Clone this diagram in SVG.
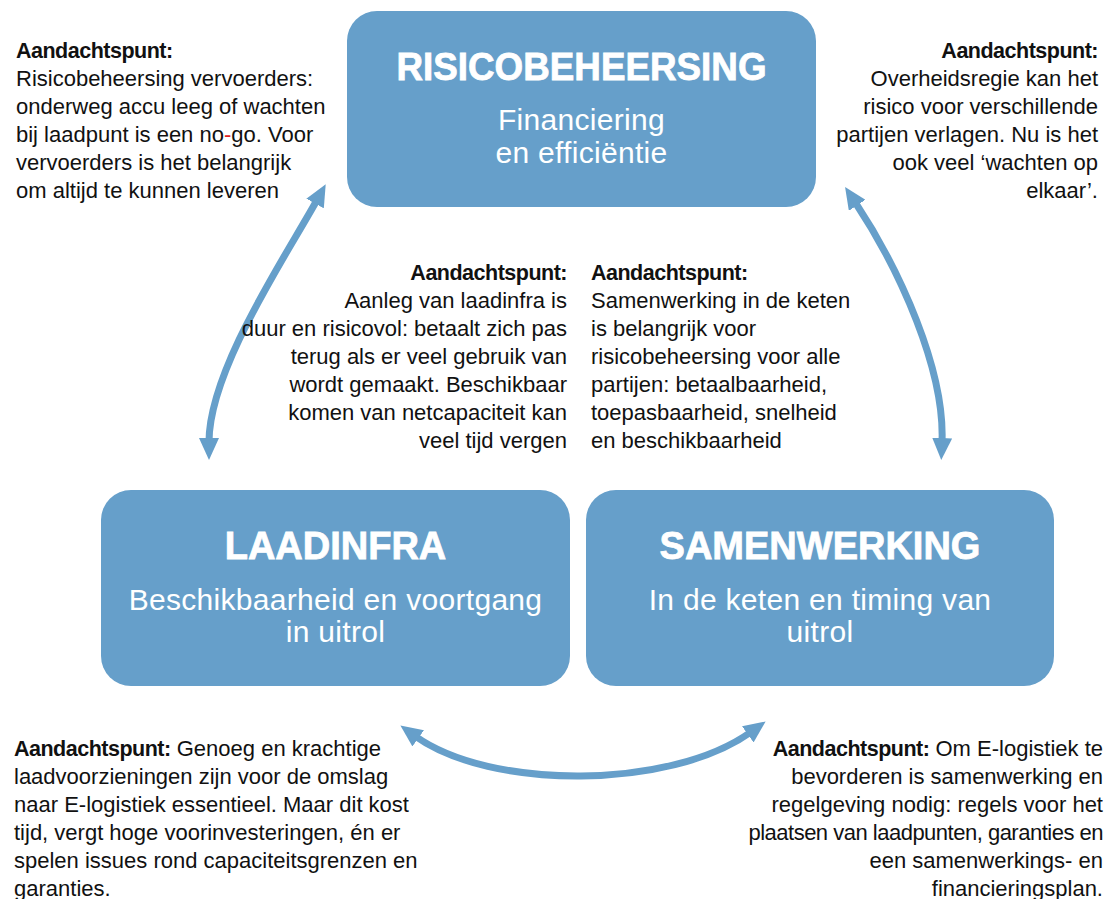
<svg xmlns="http://www.w3.org/2000/svg" width="1108" height="899" viewBox="0 0 1108 899">
<style>
.box{fill:#669FCA}
.title{font-family:"Liberation Sans",Arial,sans-serif;font-weight:bold;font-size:38px;fill:#fff;stroke:#fff;stroke-width:0.8;text-anchor:middle}
.sub{font-family:"Liberation Sans",Arial,sans-serif;font-size:30px;fill:#fff;text-anchor:middle;letter-spacing:0.3px}
.t{font-family:"Liberation Sans",Arial,sans-serif;font-size:22px;fill:#111}
.b{font-weight:bold;font-size:21.5px;letter-spacing:-0.5px}
.r{text-anchor:end}
.conn{fill:none;stroke:#669FCA;stroke-width:7}
</style>
<defs>
<marker id="ah" viewBox="0 0 22 20" refX="4" refY="10" markerWidth="22" markerHeight="20" markerUnits="userSpaceOnUse" orient="auto-start-reverse">
<path d="M0,0 L22,10 L0,20 Z" fill="#669FCA"/>
</marker>
</defs>
<rect width="1108" height="899" fill="#fff"/>

<g id="connectors">
<path class="conn" d="M317,200 C286,256 209,370 209,442" marker-start="url(#ah)" marker-end="url(#ah)"/>
<path class="conn" d="M855,202 C900,270 945,370 942,442" marker-start="url(#ah)" marker-end="url(#ah)"/>
<path class="conn" d="M415,736 C490,790 670,790 751,732" marker-start="url(#ah)" marker-end="url(#ah)"/>
</g>

<g id="node-risicobeheersing">
<rect class="box" x="347" y="11" width="469" height="196" rx="30"/>
<text class="title" x="581.5" y="80" textLength="370" lengthAdjust="spacingAndGlyphs">RISICOBEHEERSING</text>
<text class="sub" x="581.5" y="130">Financiering</text>
<text class="sub" x="581.5" y="163">en efficiëntie</text>
</g>

<g id="node-laadinfra">
<rect class="box" x="101" y="490" width="469" height="196" rx="30"/>
<text class="title" x="335.5" y="559">LAADINFRA</text>
<text class="sub" x="335.5" y="610">Beschikbaarheid en voortgang</text>
<text class="sub" x="335.5" y="642">in uitrol</text>
</g>

<g id="node-samenwerking">
<rect class="box" x="586" y="490" width="468" height="196" rx="30"/>
<text class="title" x="820" y="559">SAMENWERKING</text>
<text class="sub" x="820" y="610">In de keten en timing van</text>
<text class="sub" x="820" y="642">uitrol</text>
</g>

<g id="note-top-left">
<text class="t b" x="16" y="58">Aandachtspunt:</text>
<text class="t" x="16" y="86">Risicobeheersing vervoerders:</text>
<text class="t" x="16" y="114">onderweg accu leeg of wachten</text>
<text class="t" x="16" y="142">bij laadpunt is een no<tspan fill="#e02020">-</tspan>go. Voor</text>
<text class="t" x="16" y="170">vervoerders is het belangrijk</text>
<text class="t" x="16" y="198">om altijd te kunnen leveren</text>
</g>

<g id="note-top-right">
<text class="t b r" x="1098" y="58">Aandachtspunt:</text>
<text class="t r" x="1098" y="86">Overheidsregie kan het</text>
<text class="t r" x="1098" y="114">risico voor verschillende</text>
<text class="t r" x="1098" y="142">partijen verlagen. Nu is het</text>
<text class="t r" x="1098" y="170">ook veel ‘wachten op</text>
<text class="t r" x="1098" y="198">elkaar’.</text>
</g>

<g id="note-middle-left">
<text class="t b r" x="567" y="280">Aandachtspunt:</text>
<text class="t r" x="567" y="308">Aanleg van laadinfra is</text>
<text class="t r" x="567" y="336">duur en risicovol: betaalt zich pas</text>
<text class="t r" x="567" y="364">terug als er veel gebruik van</text>
<text class="t r" x="567" y="392">wordt gemaakt. Beschikbaar</text>
<text class="t r" x="567" y="420">komen van netcapaciteit kan</text>
<text class="t r" x="567" y="448">veel tijd vergen</text>
</g>

<g id="note-middle-right">
<text class="t b" x="591" y="280">Aandachtspunt:</text>
<text class="t" x="591" y="308">Samenwerking in de keten</text>
<text class="t" x="591" y="336">is belangrijk voor</text>
<text class="t" x="591" y="364">risicobeheersing voor alle</text>
<text class="t" x="591" y="392">partijen: betaalbaarheid,</text>
<text class="t" x="591" y="420">toepasbaarheid, snelheid</text>
<text class="t" x="591" y="448">en beschikbaarheid</text>
</g>

<g id="note-bottom-left">
<text class="t" x="14" y="756"><tspan class="b">Aandachtspunt:</tspan> Genoeg en krachtige</text>
<text class="t" x="14" y="784">laadvoorzieningen zijn voor de omslag</text>
<text class="t" x="14" y="812">naar E-logistiek essentieel. Maar dit kost</text>
<text class="t" x="14" y="840">tijd, vergt hoge voorinvesteringen, én er</text>
<text class="t" x="14" y="868">spelen issues rond capaciteitsgrenzen en</text>
<text class="t" x="14" y="896">garanties.</text>
</g>

<g id="note-bottom-right">
<text class="t r" x="1103" y="756"><tspan class="b">Aandachtspunt:</tspan> Om E-logistiek te</text>
<text class="t r" x="1103" y="784">bevorderen is samenwerking en</text>
<text class="t r" x="1103" y="812">regelgeving nodig: regels voor het</text>
<text class="t r" x="1103" y="840" letter-spacing="-0.5">plaatsen van laadpunten, garanties en</text>
<text class="t r" x="1103" y="868">een samenwerkings- en</text>
<text class="t r" x="1103" y="896">financieringsplan.</text>
</g>
</svg>
